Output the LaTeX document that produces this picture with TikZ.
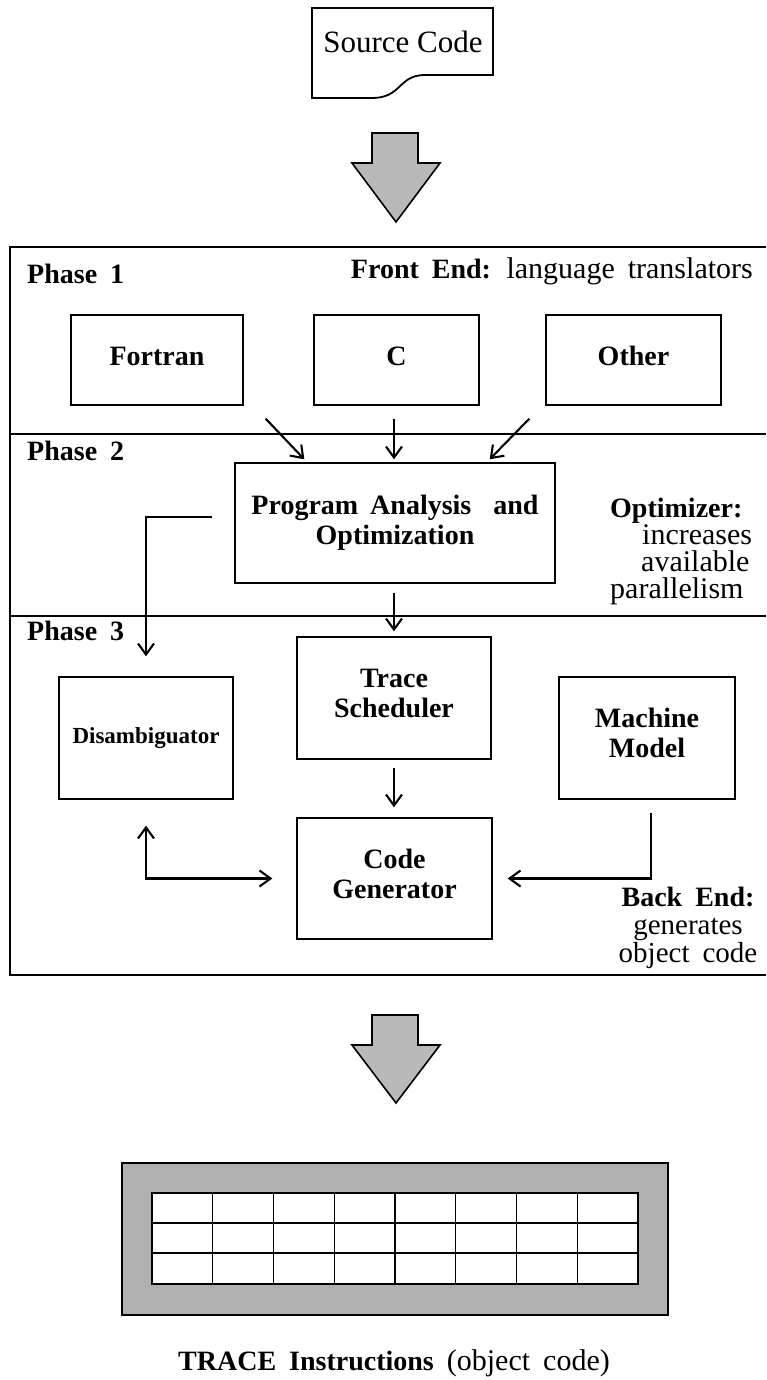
\documentclass[tikz,border=0pt]{standalone}
\usepackage{fontspec}
\setmainfont{Liberation Serif}
\usetikzlibrary{arrows.meta,calc}
% bold labels, regular annotations, smaller bold for the long box name
\newcommand\labfont{\fontsize{28}{30}\selectfont\bfseries\spaceskip=13pt plus 2pt\relax}
\newcommand\txtfont{\fontsize{30}{27}\selectfont\mdseries\spaceskip=13pt plus 2pt\relax}
\newcommand\disfont{\fontsize{23}{25}\selectfont\bfseries}
\newcommand\ctrrow[1]{\hbox to 160pt{\hfil#1\hfil}}
\begin{document}
\begin{tikzpicture}[x=1pt,y=-1pt,
  every node/.style={inner sep=0pt},
  >={Straight Barb[length=11pt,width=16pt]},
  box/.style={draw,line width=1.4pt,font=\labfont},
  onerow/.style={text height=20pt,text depth=10pt},
  tworow/.style={align=center,text depth=10pt},
  link/.style={line width=2.1pt,->},
  frame/.style={line width=1.8pt},
  bigarrow/.style={draw,line width=1.6pt,fill=gray!55,line join=miter},
  gridline/.style={line width=1.4pt}]
\useasboundingbox (0,0) rectangle (766,1380);

% source document with a torn lower edge
\draw[line width=1.8pt,line join=miter] (312,8) -- (493,8) -- (493,75) -- (425,75)
  .. controls (398,75) and (402,98) .. (372,98) -- (312,98) -- cycle;
\node[font=\fontsize{31}{31}\selectfont,anchor=base] (src) at (403,53) {Source Code};

% block arrows
\draw[bigarrow] (372,133) -- (418,133) -- (418,163) -- (440,163) -- (396,222)
  -- (352,163) -- (372,163) -- cycle;
\draw[bigarrow] (372,1015) -- (418,1015) -- (418,1045) -- (440,1045) -- (396,1103)
  -- (352,1045) -- (372,1045) -- cycle;

% compiler frame and phase dividers
\draw[frame] (766,247) -- (10,247) -- (10,975) -- (766,975);
\draw[frame] (10,434) -- (766,434);
\draw[frame] (10,616) -- (766,616);

\node[font=\labfont,anchor=base west] (ph1) at (27,283) {Phase 1};
\node[font=\labfont,anchor=base west] (ph2) at (27,460) {Phase 2};
\node[font=\labfont,anchor=base west] (ph3) at (27,640) {Phase 3};

\node[font=\txtfont,anchor=base east] (fe) at (753,278)
  {{\labfont Front End:} language translators};

% phase 1: language front ends
\node[box,onerow,minimum width=172pt,minimum height=90pt] (fortran) at (157,360) {Fortran\hspace{30pt}};
\node[box,onerow,minimum width=165pt,minimum height=90pt] (c) at (396.5,360) {C\hspace{10pt}};
\node[box,onerow,minimum width=175pt,minimum height=90pt] (other) at (633.5,360) {Other\hspace{16pt}};

% phase 2: optimizer
\node[box,align=center,minimum width=320pt,minimum height=120pt] (prog) at (395,523)
  {Program\hspace{12pt}Analysis\hspace{22pt}and\\Optimization};
\node[font=\txtfont,anchor=base west] (opt) at (610,517)
  {\vtop{\lineskiplimit=-20pt\hbox{\labfont Optimizer:}\hbox{\hspace*{32pt}increases}%
   \hbox{\hspace*{31pt}available}\hbox{parallelism}}};

% phase 3: back end
\node[box,tworow,minimum width=194pt,minimum height=122pt] (trace) at (394,698) {Trace\\Scheduler};
\node[box,tworow,minimum width=195pt,minimum height=121pt] (code) at (394.5,878.5) {Code\\Generator};
\node[box,font=\disfont,minimum width=174pt,minimum height=122pt] (dis) at (146,738) {Disambiguator};
\node[box,tworow,minimum width=176pt,minimum height=122pt] (machine) at (647,738) {Machine\\Model};
\node[font=\txtfont\fontsize{29}{28}\selectfont,anchor=base] (be) at (688,906)
  {\vtop{\lineskiplimit=-20pt\baselineskip=28pt\ctrrow{\labfont Back End:}%
   \ctrrow{generates}\ctrrow{object code}}};

% connectors
\draw[link] ($(fortran.south east)+(22,13)$) -- ($(prog.north west)+(70,-3)$);
\draw[link] ($(c.south)+(-2.5,13)$) -- ($(prog.north)+(-1,-3)$);
\draw[link] ($(other.south west)+(-16,13)$) -- ($(prog.north east)+(-66,-3)$);
\draw[link] ($(prog.west)+(-22,-6)$) -| ($(dis.north)+(0,-20)$);
\draw[link] ($(prog.south)+(-1,9)$) -- ($(trace.north)+(0,-5)$);
\draw[link] ($(trace.south)+(0,8)$) -- ($(code.north)+(-0.5,-10)$);
\draw[link,<->] ($(dis.south)+(0,26)$) |- ($(code.west)+(-24,0)$);
\draw[link] ($(machine.south)+(4,13)$) |- ($(code.east)+(15,0)$);

% instruction word: shaded border around an 8 x 3 grid
\draw[line width=2.5pt,fill=gray!62] (122,1163) rectangle (668,1315);
\draw[gridline,fill=white] (152,1193) rectangle (638,1284);
\foreach \y in {1223,1253} \draw[gridline] (152,\y) -- (638,\y);
\foreach \i in {1,...,7} \draw[gridline] ({152+\i*60.75},1193) -- ({152+\i*60.75},1284);

\node[font=\labfont,anchor=base] (out) at (394,1370) {TRACE Instructions {\txtfont (object code)}};
\end{tikzpicture}
\end{document}
